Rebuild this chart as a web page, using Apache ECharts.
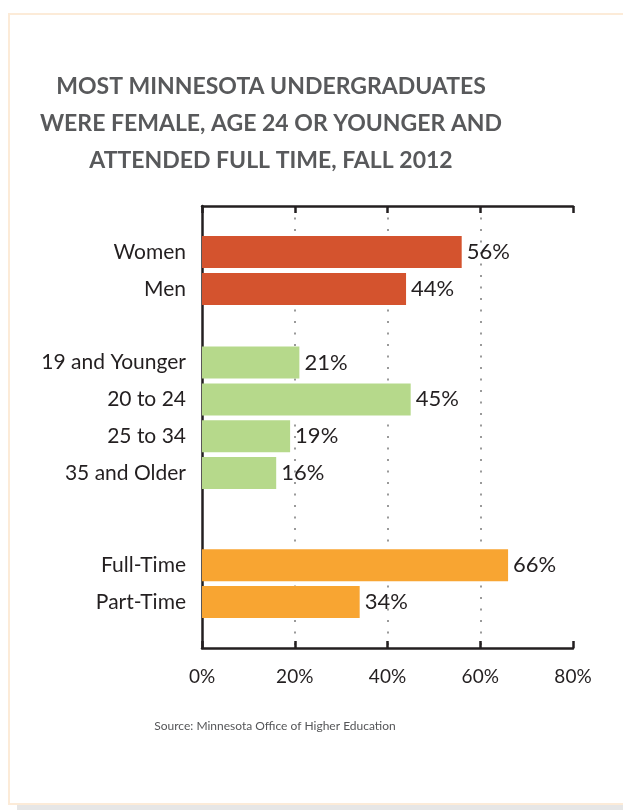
<!DOCTYPE html>
<html>
<head>
<meta charset="utf-8">
<script src="https://cdn.jsdelivr.net/npm/echarts@6/dist/echarts.min.js"></script>
<style>
  html, body { margin: 0; padding: 0; background: #fff; }
  #chart { width: 623px; height: 810px; }
</style>
</head>
<body>
<div id="chart"></div>
<script>
// data
var categories = ['Women', 'Men', '19 and Younger', '20 to 24', '25 to 34', '35 and Older', 'Full-Time', 'Part-Time'];
var values = [56, 44, 21, 45, 19, 16, 66, 34];
var groups = ['gender', 'gender', 'age', 'age', 'age', 'age', 'status', 'status'];
var xTicks = [0, 20, 40, 60, 80];

// layout: half-row slots so the groups get their gaps
var slotCount = 24;
var slotOf = [2, 4, 8, 10, 12, 14, 19, 21];
var groupColor = { gender: '#d4532e', age: '#b6d98b', status: '#f8a532' };

var axisColor = '#231f20';
var font = 'Lato, "Open Sans", sans-serif';

var yCats = [];
var barData = [];
for (var s = 0; s < slotCount; s++) {
    yCats.push('');
    barData.push('-');
}
categories.forEach(function (name, i) {
    yCats[slotOf[i]] = name;
    barData[slotOf[i]] = {
        value: values[i],
        itemStyle: { color: groupColor[groups[i]] }
    };
});

var chartDom = document.getElementById('chart');
var myChart = echarts.init(chartDom);
var option;

var xMin = xTicks[0], xMax = xTicks[xTicks.length - 1], xStep = xTicks[1] - xTicks[0];

option = {
    animation: false,
    title: {
        text: 'MOST MINNESOTA UNDERGRADUATES\nWERE FEMALE, AGE 24 OR YOUNGER AND\nATTENDED FULL TIME, FALL 2012',
        left: 266,
        top: 63,
        textAlign: 'center',
        textStyle: {
            color: '#58595b',
            fontFamily: font,
            fontWeight: 'bold',
            fontSize: 23,
            lineHeight: 37,
            align: 'center'
        }
    },
    graphic: [
        {
            type: 'rect',
            shape: { x: 17, y: 804, width: 620, height: 8 },
            style: { fill: '#e6e6e6' },
            z: -2
        },
        {
            type: 'rect',
            shape: { x: 9, y: 14, width: 620, height: 790 },
            style: { fill: '#fff', stroke: '#fcebd8', lineWidth: 2 },
            z: -1
        },
        {
            type: 'text',
            x: 275,
            y: 726,
            style: {
                text: 'Source: Minnesota Office of Higher Education',
                fill: '#555658',
                font: '12px ' + font,
                textAlign: 'center',
                textVerticalAlign: 'middle'
            }
        }
    ],
    grid: {
        left: 202,
        top: 206,
        width: 371,
        height: 442,
        containLabel: false
    },
    xAxis: [
        {
            type: 'value',
            position: 'bottom',
            min: xMin,
            max: xMax,
            interval: xStep,
            axisLine: { show: true, lineStyle: { color: axisColor, width: 2.5 } },
            axisTick: { show: true, inside: true, length: 7, lineStyle: { color: axisColor, width: 2.5 } },
            axisLabel: {
                formatter: '{value}%',
                color: axisColor,
                fontFamily: font,
                fontSize: 19,
                margin: 19
            },
            splitLine: {
                show: true,
                showMinLine: false,
                showMaxLine: false,
                lineStyle: { color: '#9a9a9a', width: 2, type: [2, 9.5] }
            }
        },
        {
            type: 'value',
            position: 'top',
            min: xMin,
            max: xMax,
            interval: xStep,
            axisLine: { show: true, lineStyle: { color: axisColor, width: 2.5 } },
            axisTick: { show: true, inside: true, length: 7, lineStyle: { color: axisColor, width: 2.5 } },
            axisLabel: { show: false },
            splitLine: { show: false }
        }
    ],
    yAxis: {
        type: 'category',
        data: yCats,
        inverse: true,
        axisLine: { show: true, lineStyle: { color: axisColor, width: 2.5 } },
        axisTick: { show: false },
        axisLabel: {
            interval: 0,
            color: axisColor,
            fontFamily: font,
            fontSize: 21,
            margin: 16
        }
    },
    series: [
        {
            type: 'bar',
            xAxisIndex: 0,
            barWidth: 32,
            data: barData,
            label: {
                show: true,
                position: 'right',
                distance: 5,
                formatter: '{c}%',
                color: axisColor,
                fontFamily: font,
                fontSize: 22
            }
        }
    ]
};

option && myChart.setOption(option);
</script>
</body>
</html>
